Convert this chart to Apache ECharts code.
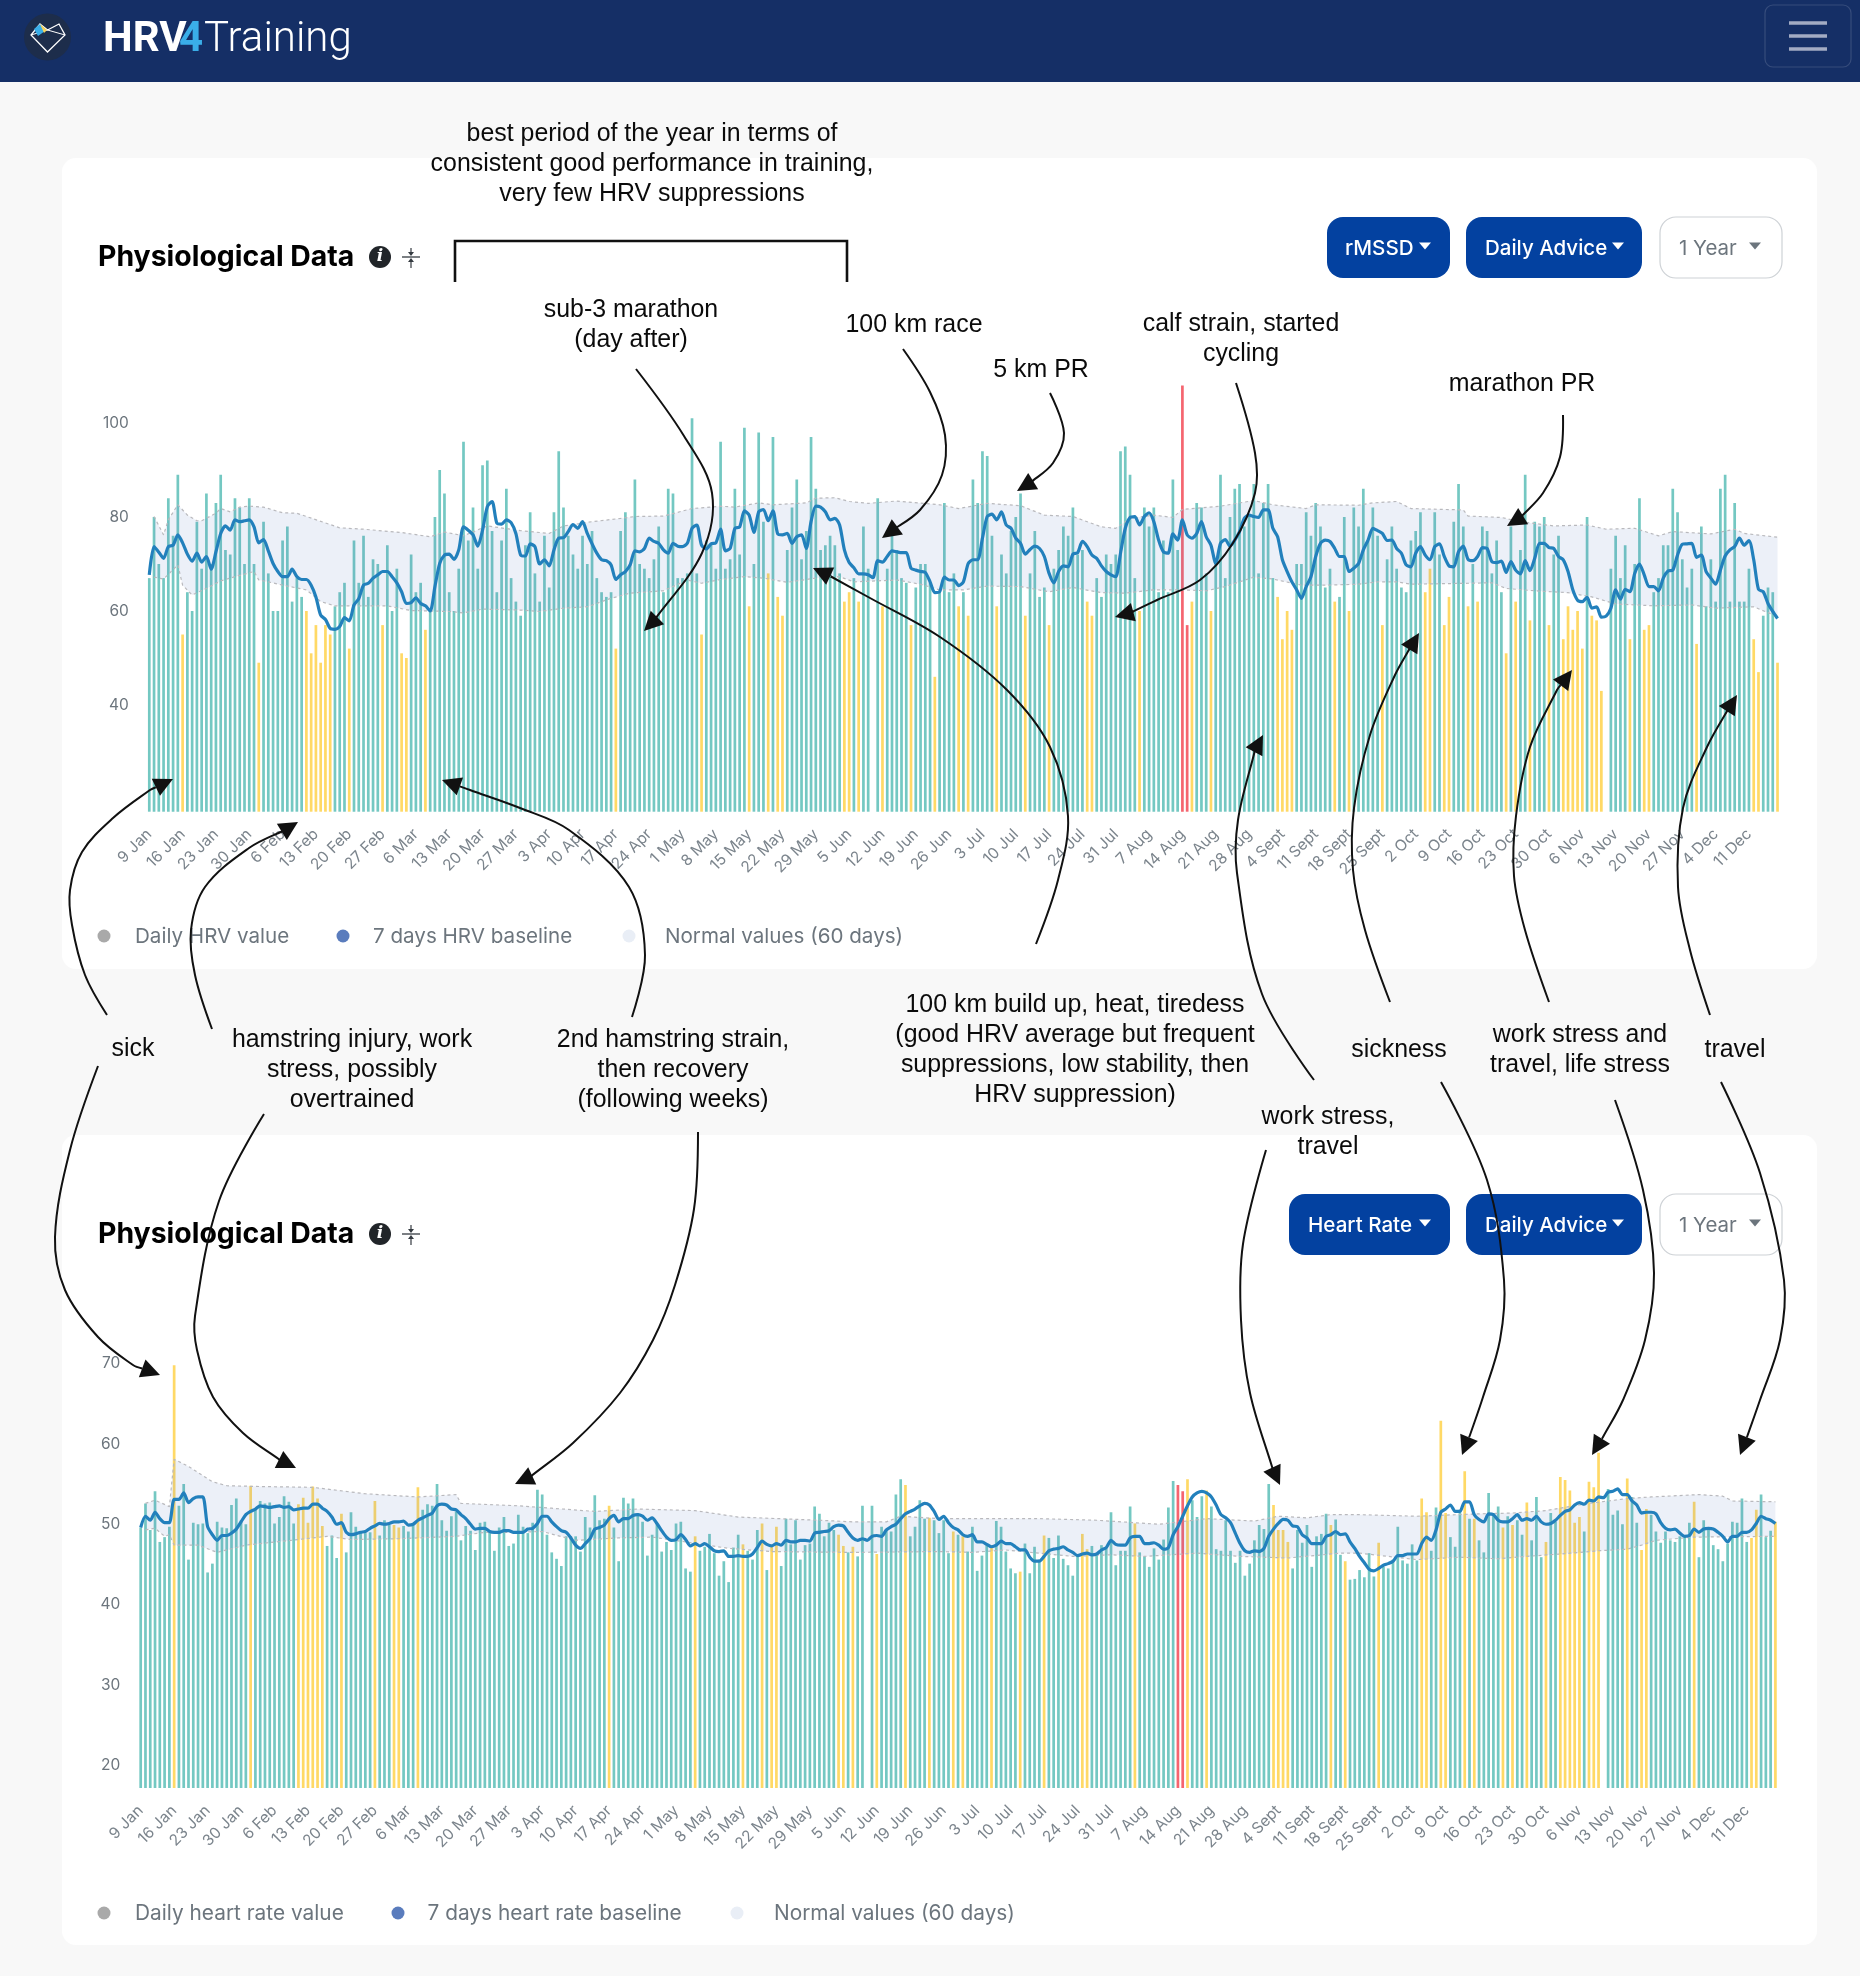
<!DOCTYPE html>
<html><head><meta charset="utf-8"><title>HRV4Training</title>
<style>html,body{margin:0;padding:0;background:#f8f8f8}#c{width:1860px;height:1976px}</style>
<script src="https://cdn.jsdelivr.net/npm/echarts@6/dist/echarts.min.js"></script></head>
<body><div id="c"></div>
<script>
const weekLabels=['9 Jan','16 Jan','23 Jan','30 Jan','6 Feb','13 Feb','20 Feb','27 Feb','6 Mar','13 Mar','20 Mar','27 Mar','3 Apr','10 Apr','17 Apr','24 Apr','1 May','8 May','15 May','22 May','29 May','5 Jun','12 Jun','19 Jun','26 Jun','3 Jul','10 Jul','17 Jul','24 Jul','31 Jul','7 Aug','14 Aug','21 Aug','28 Aug','4 Sept','11 Sept','18 Sept','25 Sept','2 Oct','9 Oct','16 Oct','23 Oct','30 Oct','6 Nov','13 Nov','20 Nov','27 Nov','4 Dec','11 Dec'];
const yellowDays=[7,23,33,34,35,36,37,38,42,49,53,54,58,98,116,126,130,132,133,146,147,149,154,160,165,170,172,178,184,189,197,198,208,219,223,237,238,239,240,249,252,259,268,269,272,273,277,279,285,287,290,294,297,298,299,300,301,303,304,305,311,314,315,325,337,338,342];
const redDays=[217,218];

const hrvValues=[67,80,70,67,84,76,89,55,64,60,79,69,85,70,83,89,73,72,84,82,70,84,70,49,79,68,60,60,75,78,62,67,63,60,51,57,49,57,55,61,64,66,52,75,66,76,63,71,70,57,74,60,69,51,50,72,64,66,56,60,80,90,85,64,60,69,96,75,82,69,91,92,77,64,75,86,67,62,
59,74,81,68,62,76,65,81,94,82,76,72,69,76,70,77,67,64,63,64,52,77,81,70,88,70,69,67,71,78,64,86,85,67,67,68,101,68,55,75,74,69,96,69,71,86,72,99,61,70,98,79,68,97,63,59,73,82,88,71,77,97,86,73,74,76,74,68,62,64,67,62,78,69,null,84,61,69,77,73,67,66,57,65,70,70,66,46,64,
83,64,68,61,64,59,88,83,94,93,76,61,72,68,77,80,85,59,68,77,63,65,57,69,73,78,76,82,72,73,62,59,67,63,72,70,72,94,95,89,67,60,82,78,82,64,75,64,88,73,108,57,62,83,82,68,60,71,89,67,80,86,87,78,80,87,68,83,87,67,63,54,60,56,70,70,81,76,83,78,65,69,62,63,80,60,82,78,
86,75,82,76,57,71,78,69,65,64,75,77,81,64,69,81,72,57,63,79,87,78,61,70,62,78,77,68,75,64,51,78,62,73,89,58,79,78,80,57,72,76,54,61,56,60,52,80,59,58,43,null,69,76,67,74,54,70,84,56,57,64,67,74,74,86,81,71,65,69,53,78,61,71,62,86,89,62,83,62,62,69,54,47,59,65,64,49];
const hrvBaseline=[67.7,73.7,72.5,71.2,73.7,74.0,76.2,74.5,72.1,70.6,72.3,70.4,71.6,68.9,72.6,76.5,78.1,77.2,79.4,79.0,79.2,79.4,77.9,74.5,75.2,72.8,70.1,68.4,67.3,67.3,68.9,67.3,66.7,66.7,65.5,63.0,59.1,58.2,56.3,56.1,56.7,58.6,57.9,61.3,62.6,65.5,65.9,67.0,67.7,68.4,68.4,67.3,66.0,64.1,61.6,61.8,62.8,61.6,61.1,60,65.2,70.1,71.9,72.1,71.0,73.0,77.9,77.2,76.2,73.8,77.2,82.2,83.3,78.7,78.5,79.4,78.8,76.5,
71.9,71.7,74.3,73.7,70.0,70.9,69.6,73.0,75.5,75.6,76.9,78.4,77.6,79.0,76.5,74.3,72.3,70.9,70.7,69.8,66.7,67.7,68.4,69.8,72.8,72.6,73.3,75.5,74.8,74.4,73.0,72.3,74.4,73.8,73.7,74.4,77.6,78.3,74.0,73.2,74.3,74.5,77.4,72.8,73.3,77.6,77.9,81.3,80.4,76.7,81.1,81.6,79.2,81.3,76.4,76.2,76.5,74.4,75.8,76.2,73.3,79.0,82.3,82.1,81.1,79.4,79.7,78.3,73.0,70.3,69.2,67.9,67.9,67.7,67.1,70.7,70.4,71.6,72.8,72.6,72.4,72.4,69.1,68.7,68.4,68.2,66.2,63.9,64.1,
67.2,66.6,66.6,65.4,66.2,70.1,70.9,70.9,75.5,80.1,80.6,79.4,81.1,78.3,77.6,75.5,74.4,72.1,73.1,73.8,73.3,71.6,68.0,66.0,68.4,69.6,69.4,72.1,72.4,74.8,73.7,71.9,71.2,69.6,68.4,67.7,67.3,72.3,77.6,79.9,80.1,78.3,80.1,80.9,79.0,75.1,72.6,72.3,76.4,75.1,79.4,76.2,75.5,76.5,79.0,75.8,74.0,70.1,74.4,75.2,73.8,75.1,76.9,79.7,80.4,80.1,79.9,81.5,81.5,77.6,75.8,70.9,68.4,66.2,64.5,62.7,65.2,67.3,71.6,74.4,75.1,74.8,73.3,71.6,71.6,68.4,69.1,70.1,
73.0,75.1,77.6,77.1,76.5,75.0,75.1,73.3,72.3,69.8,69.4,72.3,73.7,71.9,70.9,73.7,74.3,71.6,69.6,69.4,72.6,73.8,71.0,70.7,71.6,73.5,73.3,70.5,70.3,70.6,68.2,70.5,68.7,67.9,70.7,68.6,71.2,74.4,74.4,73.5,73.3,71.6,70.9,68.4,64.5,62.3,62.0,62.9,60.6,60.9,58.7,58.9,60.6,64.5,62.5,64.6,64.1,68.0,70.0,67.7,65.2,65.2,64.3,67.0,68.5,68.7,71.9,74.2,74.3,74.4,71.4,71.9,68.4,67.0,65.7,68.7,71.7,73.0,73.7,75.5,74.0,75.0,70.9,64.6,64.1,61.6,59.9,58.4];
const hrvHighDays=[1,3,4,6,8,10,11,14,15,17,19,21,24,28,31,40,45,53,59,62,66,71,78,84,87,93,99,102,108,114,120,123,128,131,138,140,144,147,151,157,166,170,176,183,188,194,200,203,206,211,215,217,225,232,236,243,245,254,257,262,265,276,277,284,288,295,302,306,312,317,320,328,333,335,342];
const hrvHigh=[80.1,76.2,79.4,82.6,80.4,79.2,79.2,80.8,81.8,81.1,82.1,82.3,82.1,80.9,80.8,77.7,77.4,76.7,75.8,76.8,76.0,78.1,77.1,76.5,78.1,79,79.7,80.1,80.2,81.8,82.3,82.1,83,82.6,83,84,84.1,83.3,82.9,83.4,82.6,81.8,82.9,82.4,80.4,80.1,77.9,77.6,79.7,80.4,79.9,81.6,82.3,83.5,82.6,81.8,82.6,82.5,83,83.3,81.8,81.5,80.2,79.9,79,78.1,78.3,77.4,77.6,76,76.9,76.4,77.4,76.5,75.7];
const hrvLowDays=[1,3,6,7,9,12,15,18,22,23,25,28,33,36,39,45,50,55,63,66,70,78,82,87,92,97,101,108,113,116,120,125,129,134,140,145,148,157,162,166,171,176,183,189,194,200,205,211,217,222,226,232,236,242,247,254,258,262,265,277,282,285,291,298,303,308,316,324,329,337,342];
const hrvLow=[67.2,66.8,69.8,65.5,63.4,64.8,66.4,67.3,68.4,66.6,66.2,65.5,64.5,62.0,61.1,61.1,61.1,60.1,59.9,59.6,60.4,60.2,59.9,60.6,60.9,62.7,63.8,64.3,66.6,65.9,66.7,67.3,67,66.1,67,67.3,66.2,66.6,65.7,64.5,64.5,65.3,65.2,64.1,65,63.9,63.8,64.5,64.5,64.3,65.2,67.2,66.8,65.5,65.5,65.7,66.2,66.2,65.7,65.9,66,64.8,64.3,63.9,63,61.5,61.1,61.3,60.6,60.9,58.8];

const hrValues=[49.6,52.6,49.3,54.1,47.8,48.4,49.7,69.8,52.3,55.0,45.6,50.2,50.0,50.1,44.0,45.1,50.3,49.6,49.5,52.4,53.2,50.5,50.0,54.8,51.8,52.9,52.6,52.7,50.1,50.9,53.5,52.8,50.1,52.5,53.3,50.2,54.7,53.2,49.8,47.3,48.6,45.8,51.3,46.5,51.5,49.7,49.1,48.9,49.0,52.9,48.6,50.5,49.9,49.9,49.6,49.8,49.1,49.9,54.6,51.8,52.5,52.3,55.0,50.5,49.2,51.0,51.6,48.0,49.8,49.2,46.8,50.2,50.3,49.1,46.7,49.6,50.9,47.3,47.6,51.2,
49.7,48.9,50.2,54.3,53.7,48.7,46.5,45.7,44.8,48.5,48.5,48.5,46.6,50.9,49.6,53.6,50.5,50.7,52.3,49.6,45.4,53.3,52.6,53.2,51.4,50.3,46.1,48.7,50.0,46.6,47.8,46.8,50.1,50.3,44.5,44.1,48.5,46.7,47.2,48.8,46.4,43.6,45.4,42.8,47.1,48.7,47.5,46.7,45.6,49.3,50.1,44.3,47.2,49.7,44.8,50.7,47.5,50.5,45.6,47.4,47.6,52.2,51.3,48.5,50.2,49.3,48.7,47.3,46.5,47.2,46.0,52.3,null,52.3,46.3,49.7,49.3,49.1,53.7,55.6,54.9,48.5,49.7,53.0,50.7,50.8,50.5,48.9,
50.5,46.4,49.1,48.7,48.5,46.6,49.7,44.2,46.1,47.4,47.4,50.4,49.7,46.6,44.5,43.9,44.1,47.6,43.9,47.2,45.6,48.6,48.3,45.8,48.6,45.7,44.9,43.6,46.2,48.8,46.9,47.3,46.4,47.4,47.0,51.5,44.9,46.7,46.7,52.2,50.1,46.5,46.0,44.7,47.0,45.6,48.1,52.1,55.4,54.9,54.1,55.6,53.0,50.9,53.5,54.2,52.2,46.9,46.7,50.5,46.7,45.2,46.7,43.6,45.1,48.0,49.9,49.4,55.0,52.4,49.3,49.3,47.8,44.5,49.3,47.7,49.9,44.7,48.5,48.8,51.3,49.9,50.6,46.2,45.4,43.1,43.2,44.3,
43.4,46.4,43.5,47.7,44.7,44.5,45.6,49.7,45.5,45.1,47.5,45.5,53.2,51.5,46.7,52.1,62.9,51.4,48.4,47.2,51.8,56.6,50.7,50.7,48.0,46.5,53.9,51.4,52.2,49.6,51.0,49.9,50.5,48.7,52.7,48.0,53.4,45.9,47.8,51.4,50.3,55.9,55.5,54.2,50.2,50.9,49.1,55.3,54.6,58.9,null,54.4,51.2,51.7,50.0,55.7,53.4,50.2,46.8,51.9,51.2,49.1,47.7,49.1,48.0,47.8,48.5,48.5,50.2,52.8,45.9,50.5,49.3,47.4,46.9,45.4,47.6,50.3,50.2,53.2,47.8,48.3,51.8,53.7,48.4,49.2,50.3];
const hrBaseline=[49.6,51.0,50.5,51.5,50.7,50.2,50.2,53.1,53.1,53.9,52.7,53.2,53.4,53.4,49.7,48.7,48.0,48.6,48.6,48.9,49.4,50.3,51.2,51.6,51.9,52.3,52.2,52.1,52.2,52.3,52.1,52.2,51.8,51.9,52.0,52.0,52.5,52.5,52.0,51.6,50.9,50.0,50.2,49.0,48.7,48.8,49.0,49.1,49.5,49.8,50.1,50.0,50.1,50.3,50.3,50.4,49.9,50.0,50.5,50.8,51.1,51.4,52.3,52.5,52.4,51.9,51.8,51.2,50.7,50.0,49.4,49.5,49.5,49.1,49.0,49.0,49.2,49.2,49.0,49.0,
49.0,49.4,49.5,50.1,51.0,51.0,50.3,49.7,49.2,49.0,48.3,47.4,47.0,47.6,48.2,49.4,49.6,49.9,50.7,51.1,50.3,50.7,50.7,51.1,51.2,51.0,50.5,50.8,50.1,49.2,48.4,48.0,48.1,48.7,48.1,47.3,47.6,47.3,47.6,47.2,46.7,46.6,46.7,46.0,46.0,46.1,46.0,46.0,46.3,47.1,47.9,47.5,47.3,47.6,47.4,48.0,47.8,47.8,48.0,48.0,47.9,48.9,49.0,49.1,49.2,49.7,49.9,49.8,49.0,48.3,48.0,48.2,48.0,48.5,48.6,48.5,49.3,49.7,50.0,50.7,51.3,51.6,51.9,52.3,52.6,52.4,51.6,50.6,
51.0,50.2,49.6,49.3,48.7,48.5,48.7,47.8,47.8,47.5,47.2,47.4,47.9,47.6,47.6,47.2,46.8,46.8,45.9,45.4,45.4,46.0,46.7,46.9,47.0,47.2,46.8,46.5,46.1,46.3,46.4,46.2,46.3,46.8,47.1,48.0,47.5,47.4,47.4,48.3,48.5,48.5,47.6,47.6,47.7,47.4,46.9,47.1,48.7,49.7,51.0,52.3,53.4,53.9,54.1,53.9,53.4,52.4,51.2,50.8,50.2,48.9,47.6,46.7,46.5,46.7,46.6,47.0,48.5,49.4,50.1,50.6,50.5,49.8,49.7,48.7,48.3,47.6,47.6,47.6,48.5,48.7,49.1,48.7,48.8,47.8,47.0,46.0,
45.2,44.4,44.2,44.5,44.9,45.1,45.4,46.1,46.1,46.3,46.3,46.3,47.6,48.4,48.0,49.3,51.5,51.9,52.4,51.6,51.6,52.8,52.8,51.2,50.6,50.3,51.3,51.2,50.5,50.3,50.3,50.7,51.2,50.5,50.7,50.5,51.0,50.3,50.0,50.1,50.5,51.1,51.6,51.8,52.4,52.7,52.5,53.0,52.9,53.4,53.3,54.0,54.1,54.4,53.7,53.7,52.9,52.4,51.4,51.5,51.5,51.3,50.2,49.5,49.3,49.4,48.9,48.5,48.6,49.4,49.0,49.4,49.5,49.4,49.0,48.5,47.8,48.5,48.5,49.0,49.0,49.3,50.1,51.0,50.7,50.5,50.1];
const hrHighDays=[1,3,6,7,10,15,18,25,36,47,58,66,67,79,86,95,104,116,125,142,149,156,159,167,179,188,200,213,223,233,238,244,249,255,267,280,287,294,303,311,316,326,331,333,342];
const hrHigh=[52.6,53,52.2,58.1,57.2,55.3,54.8,54.7,54.6,53.8,53.4,53.7,52.6,52.3,52,51.6,51.9,51.7,50.9,50.5,50.3,50.3,51,50.7,50.7,50.7,50.5,50,50.7,50.4,51,50.8,51.2,51.2,51,51.3,51.4,51.7,52.6,53.2,53.4,53.7,53.5,52.9,52.8];
const hrLowDays=[1,3,5,6,7,12,16,22,33,39,44,54,66,72,79,84,91,100,107,114,123,132,149,167,174,181,195,203,210,221,230,240,251,255,267,276,284,290,297,305,311,314,317,325,342];
const hrLow=[49.3,49.5,48.5,48.7,47.4,47.4,46.5,47.4,48.1,48.5,48.1,48.2,48.5,49,49,49.1,48,48.3,48.4,47.8,47,46.6,46.5,46.6,46.5,46.8,46,46.2,46,46.4,46,45.8,46.4,46.4,45.6,45.9,45.7,46,46.3,46.7,46.9,47.4,48,48.4,48.5];

const hrvTicks=[40,60,80,100], hrTicks=[20,30,40,50,60,70];
const notes=[
 [['best period of the year in terms of','consistent good performance in training,','very few HRV suppressions'],652,134],
 [['sub-3 marathon','(day after)'],631,310],
 [['100 km race'],914,325],
 [['5 km PR'],1041,370],
 [['calf strain, started','cycling'],1241,324],
 [['marathon PR'],1522,384],
 [['sick'],133,1049],
 [['hamstring injury, work','stress, possibly','overtrained'],352,1040],
 [['2nd hamstring strain,','then recovery','(following weeks)'],673,1040],
 [['100 km build up, heat, tiredess','(good HRV average but frequent','suppressions, low stability, then','HRV suppression)'],1075,1005],
 [['work stress,','travel'],1328,1117],
 [['sickness'],1399,1050],
 [['work stress and','travel, life stress'],1580,1035],
 [['travel'],1735,1050]
];
const arrows=[
 [[[636,369],[684,436],[712,493],[702,553],[653,622]],[644,631]],
 [[[903,349],[930,392],[945,435],[942,475],[920,510],[893,530]],[882,538]],
 [[[1050,393],[1064,433],[1053,463],[1030,483]],[1017,491]],
 [[[1236,383],[1255,453],[1255,493],[1233,543],[1200,580],[1157,600],[1130,613]],[1115,617]],
 [[[1563,415],[1560,457],[1543,493],[1520,518]],[1507,526]],
 [[[107,1015],[85,975],[72,925],[70,890],[82,852],[113,818],[150,790]],[173,779]],
 [[[212,1029],[195,975],[191,930],[205,887],[249,848],[285,830]],[298,822]],
 [[[632,1017],[645,955],[629,887],[569,830],[520,808],[470,790]],[442,780]],
 [[[1036,944],[1058,880],[1068,816],[1050,747],[1007,690],[940,637],[870,598],[830,576]],[813,568]],
 [[[1314,1080],[1262,994],[1237,873],[1238,820],[1255,750]],[1263,735]],
 [[[1390,1002],[1365,930],[1353,870],[1354,808],[1370,735],[1395,675],[1410,648]],[1419,633]],
 [[[1549,1002],[1525,930],[1514,876],[1516,816],[1530,747],[1557,690]],[1572,670]],
 [[[1710,1015],[1690,950],[1678,887],[1683,808],[1707,747],[1730,706]],[1737,695]],
 [[[98,1066],[70,1150],[55,1237],[65,1290],[98,1337],[133,1365]],[160,1375]],
 [[[264,1114],[219,1201],[195,1316],[197,1350],[213,1397],[243,1433],[280,1460]],[296,1468]],
 [[[698,1132],[694,1209],[675,1285],[653,1340],[620,1393],[573,1443],[530,1477]],[515,1484]],
 [[[1266,1150],[1243,1244],[1241,1320],[1250,1393],[1273,1470]],[1280,1485]],
 [[[1441,1082],[1487,1180],[1504,1280],[1500,1340],[1483,1397],[1470,1435]],[1462,1455]],
 [[[1615,1100],[1643,1190],[1654,1273],[1645,1340],[1623,1400],[1603,1437]],[1592,1455]],
 [[[1721,1082],[1760,1173],[1784,1280],[1780,1340],[1760,1400],[1747,1437]],[1740,1455]]
];

const C={teal:'#74c8c2',yellow:'#ffd966',red:'#f5656f',line:'#2280bc',dash:'#b9b9bd',grey:'#6c757d',btn:'#0341a0'};
const categories=[];for(let i=0;i<343;i++){categories.push(i%7===0?weekLabels[i/7]:'');}
const colorOf=i=>redDays.includes(i)?C.red:yellowDays.includes(i)?C.yellow:C.teal;
const bars=vals=>vals.map((v,i)=>v==null?null:{value:v,itemStyle:{color:colorOf(i)}});
const pairs=(d,v)=>d.map((x,i)=>[x,v[i]]);
const UI='Inter, "Noto Sans", sans-serif', NOTE='"Liberation Sans", Arial, sans-serif';

function txt(s,x,y,o){o=o||{};return {type:'text',z:o.z==null?1:o.z,silent:true,style:{text:s,x:x,y:y,fill:o.fill||'#000',fontSize:o.size||20,fontFamily:o.font||UI,fontWeight:o.weight||'normal',fontStyle:o.fstyle||'normal',align:o.align||'left',verticalAlign:'middle',textAlign:o.align||'left',textVerticalAlign:'middle'}};}
function rect(x,y,w,h,r,fill,stroke){return {type:'rect',z:-5,silent:true,shape:{x:x,y:y,width:w,height:h,r:r},style:{fill:fill,stroke:stroke||null,lineWidth:stroke?1.2:0}};}
function poly(pts,fill,z){return {type:'polygon',z:z==null?1:z,silent:true,shape:{points:pts},style:{fill:fill}};}
function caret(x,y,fill){return poly([[x-6,y-3.5],[x+6,y-3.5],[x,y+3.5]],fill);}
function seg(pts,stroke,w,z){return {type:'polyline',z:z==null?1:z,silent:true,shape:{points:pts},style:{stroke:stroke,lineWidth:w,fill:null}};}
function panel(dy,btnText,btnX,btnTextX){
  const g=[];
  g.push(txt('Physiological Data',98,257+dy,{size:28.4,weight:700}));
  g.push({type:'circle',z:1,silent:true,shape:{cx:380,cy:257+dy,r:11},style:{fill:'#212529'}});
  g.push(txt('i',380,257+dy,{size:17,weight:700,fill:'#fff',align:'center',font:'"DejaVu Serif",serif',fstyle:'italic'}));
  g.push(seg([[402,257+dy],[420,257+dy]],'#343a40',1.3));
  g.push(seg([[411,248+dy],[411,254+dy]],'#343a40',1.2));
  g.push(poly([[408,252+dy],[414,252+dy],[411,256+dy]],'#343a40'));
  g.push(seg([[411,260+dy],[411,268+dy]],'#343a40',1.2));
  g.push(poly([[408,262+dy],[414,262+dy],[411,258+dy]],'#343a40'));
  g.push(rect(btnX,217+dy,1450-btnX,61,16,C.btn));
  g.push(txt(btnText,btnTextX,248.5+dy,{fill:'#fff',size:20.6,weight:500}));
  g.push(caret(1425,246+dy,'#fff'));
  g.push(rect(1466,217+dy,176,61,16,C.btn));
  g.push(txt('Daily Advice',1485,248.5+dy,{fill:'#fff',size:20.5,weight:500}));
  g.push(caret(1618,246+dy,'#fff'));
  g.push(rect(1660,217+dy,122,61,16,'#fff','#ced2d6'));
  g.push(txt('1 Year',1679,248.5+dy,{fill:C.grey,size:20.5}));
  g.push(caret(1755,246+dy,C.grey));
  return g;
}
function legendRow(y,size,items){
  const g=[];
  items.forEach(it=>{
    g.push({type:'circle',z:1,silent:true,shape:{cx:it[0],cy:y,r:6.5},style:{fill:it[1]}});
    g.push(txt(it[2],it[3],y+1,{fill:C.grey,size:size}));
  });
  return g;
}
function arrowEls(a){
  const pts=a[0],tip=a[1],last=pts[pts.length-1];
  const dx=tip[0]-last[0],dy=tip[1]-last[1],L=Math.hypot(dx,dy)||1,ux=dx/L,uy=dy/L,px=-uy,py=ux;
  const bx=tip[0]-ux*19,by=tip[1]-uy*19;
  return [
   {type:'polyline',z:100,silent:true,shape:{points:pts.concat([[bx,by]]),smooth:0.35},style:{stroke:'#111',lineWidth:2,fill:null}},
   poly([tip,[bx+px*9.5,by+py*9.5],[bx-px*9.5,by-py*9.5]],'#111',100)
  ];
}
let els=[
 rect(0,0,1860,82,0,'#152f66'),
 rect(62,158,1755,811,14,'#fff'),
 rect(62,1135,1755,810,14,'#fff'),
 {type:'circle',z:1,silent:true,shape:{cx:47.5,cy:37,r:23.5},style:{fill:'#1d2d4b'}},
 {type:'polygon',z:1,silent:true,shape:{points:[[40,24],[47.5,30],[59,24],[65,35],[47.5,52],[31,35]]},style:{stroke:'#fff',lineWidth:1.3,fill:null}},
 seg([[31,35],[47.5,30],[65,35]],'#fff',1),
 poly([[34,29],[40,24],[45,31],[38,36]],'#3aaee8'),
 poly([[40,24],[47,30],[44,33]],'#f6d25a'),
 txt('HRV',103,40,{fill:'#fff',size:42,weight:700,font:'Roboto, sans-serif'}),
 txt('4',179,40,{fill:'#3aaee8',size:42,weight:700,font:'Roboto, sans-serif'}),
 txt('Training',204,40,{fill:'#fff',size:42,weight:300,font:'Roboto, sans-serif'}),
 {type:'rect',z:1,silent:true,shape:{x:1765,y:5,width:86,height:62,r:8},style:{fill:'transparent',stroke:'rgba(255,255,255,0.14)',lineWidth:1.2}},
 seg([[1789,23],[1827,23]],'#a3acc4',3.5),seg([[1789,36],[1827,36]],'#a3acc4',3.5),seg([[1789,49],[1827,49]],'#a3acc4',3.5)
];
els=els.concat(panel(0,'rMSSD',1327,1345),panel(977,'Heart Rate',1289,1308));
els=els.concat(legendRow(936,20.6,[[104,'#a9a9a9','Daily HRV value',135],[343,'#5a7cbd','7 days HRV baseline',373],[629,'#e9eef6','Normal values (60 days)',665]]));
els=els.concat(legendRow(1913,20.85,[[104,'#a9a9a9','Daily heart rate value',135],[398,'#5a7cbd','7 days heart rate baseline',427.5],[737,'#e9eef6','Normal values (60 days)',774]]));
notes.forEach(n=>n[0].forEach((s,k)=>els.push(txt(s,n[1],n[2]+k*30,{size:24.9,font:NOTE,align:'center',z:100,fill:'#0b0b0b'}))));
els.push({type:'polyline',z:100,silent:true,shape:{points:[[455,282],[455,241],[847,241],[847,282]]},style:{stroke:'#111',lineWidth:2.6,fill:null}});
arrows.forEach(a=>{els=els.concat(arrowEls(a));});

function band(name,idx,hd,hv,ld,lv){
  return {name:name,type:'custom',xAxisIndex:idx,yAxisIndex:idx,silent:true,z:3,data:[[hd[0],hv[0]]],
    renderItem:(p,api)=>{
      const up=hd.map((d,i)=>api.coord([d,hv[i]])),lo=ld.map((d,i)=>api.coord([d,lv[i]])).reverse();
      return {type:'polygon',shape:{points:up.concat(lo)},style:{fill:'rgba(92,124,196,0.115)'}};
    }};
}
function dashed(name,idx,data){return {name:name,type:'line',xAxisIndex:idx,yAxisIndex:idx,data:data,showSymbol:false,symbol:'none',z:4,silent:true,lineStyle:{color:C.dash,width:1.2,type:[3,3]}};}
function xAxis(idx){return {type:'category',gridIndex:idx,data:categories,boundaryGap:true,axisLine:{show:false},axisTick:{show:false},splitLine:{show:false},
  axisLabel:{interval:i=>i%7===0,rotate:45,margin:20,padding:[6,0,0,0],fontSize:15.5,fontFamily:UI,color:'#7b848c'}};}
function yAxis(idx,min,max,ticks){return {type:'value',gridIndex:idx,min:min,max:max,splitLine:{show:false},axisLine:{show:false},axisTick:{show:false},
  axisLabel:{customValues:ticks,margin:18,fontSize:15.5,fontFamily:UI,color:C.grey}};}

const chart=echarts.init(document.getElementById('c'),null,{width:1860,height:1976});
chart.setOption({
 animation:false,backgroundColor:'#f8f8f8',
 grid:[{left:146.9,width:1633,top:385.4,height:426.3},{left:138.3,width:1639.5,top:1347.6,height:440.4}],
 xAxis:[xAxis(0),xAxis(1)],
 yAxis:[yAxis(0,17.3,108,hrvTicks),yAxis(1,17.16,72,hrTicks)],
 series:[
  {name:'Daily HRV value',type:'bar',xAxisIndex:0,yAxisIndex:0,data:bars(hrvValues),barWidth:2.7,z:2,silent:true},
  band('Normal values (60 days)',0,hrvHighDays,hrvHigh,hrvLowDays,hrvLow),
  dashed('Normal high',0,pairs(hrvHighDays,hrvHigh)),dashed('Normal low',0,pairs(hrvLowDays,hrvLow)),
  {name:'7 days HRV baseline',type:'line',xAxisIndex:0,yAxisIndex:0,data:hrvBaseline,smooth:0.25,showSymbol:false,symbol:'none',z:5,silent:true,lineStyle:{color:C.line,width:3.2}},
  {name:'Daily heart rate value',type:'bar',xAxisIndex:1,yAxisIndex:1,data:bars(hrValues),barWidth:2.7,z:2,silent:true},
  band('Normal values (60 days) HR',1,hrHighDays,hrHigh,hrLowDays,hrLow),
  dashed('Normal high HR',1,pairs(hrHighDays,hrHigh)),dashed('Normal low HR',1,pairs(hrLowDays,hrLow)),
  {name:'7 days heart rate baseline',type:'line',xAxisIndex:1,yAxisIndex:1,data:hrBaseline,smooth:0.25,showSymbol:false,symbol:'none',z:5,silent:true,lineStyle:{color:C.line,width:3.2}}
 ],
 graphic:{elements:els}
});
</script></body></html>
